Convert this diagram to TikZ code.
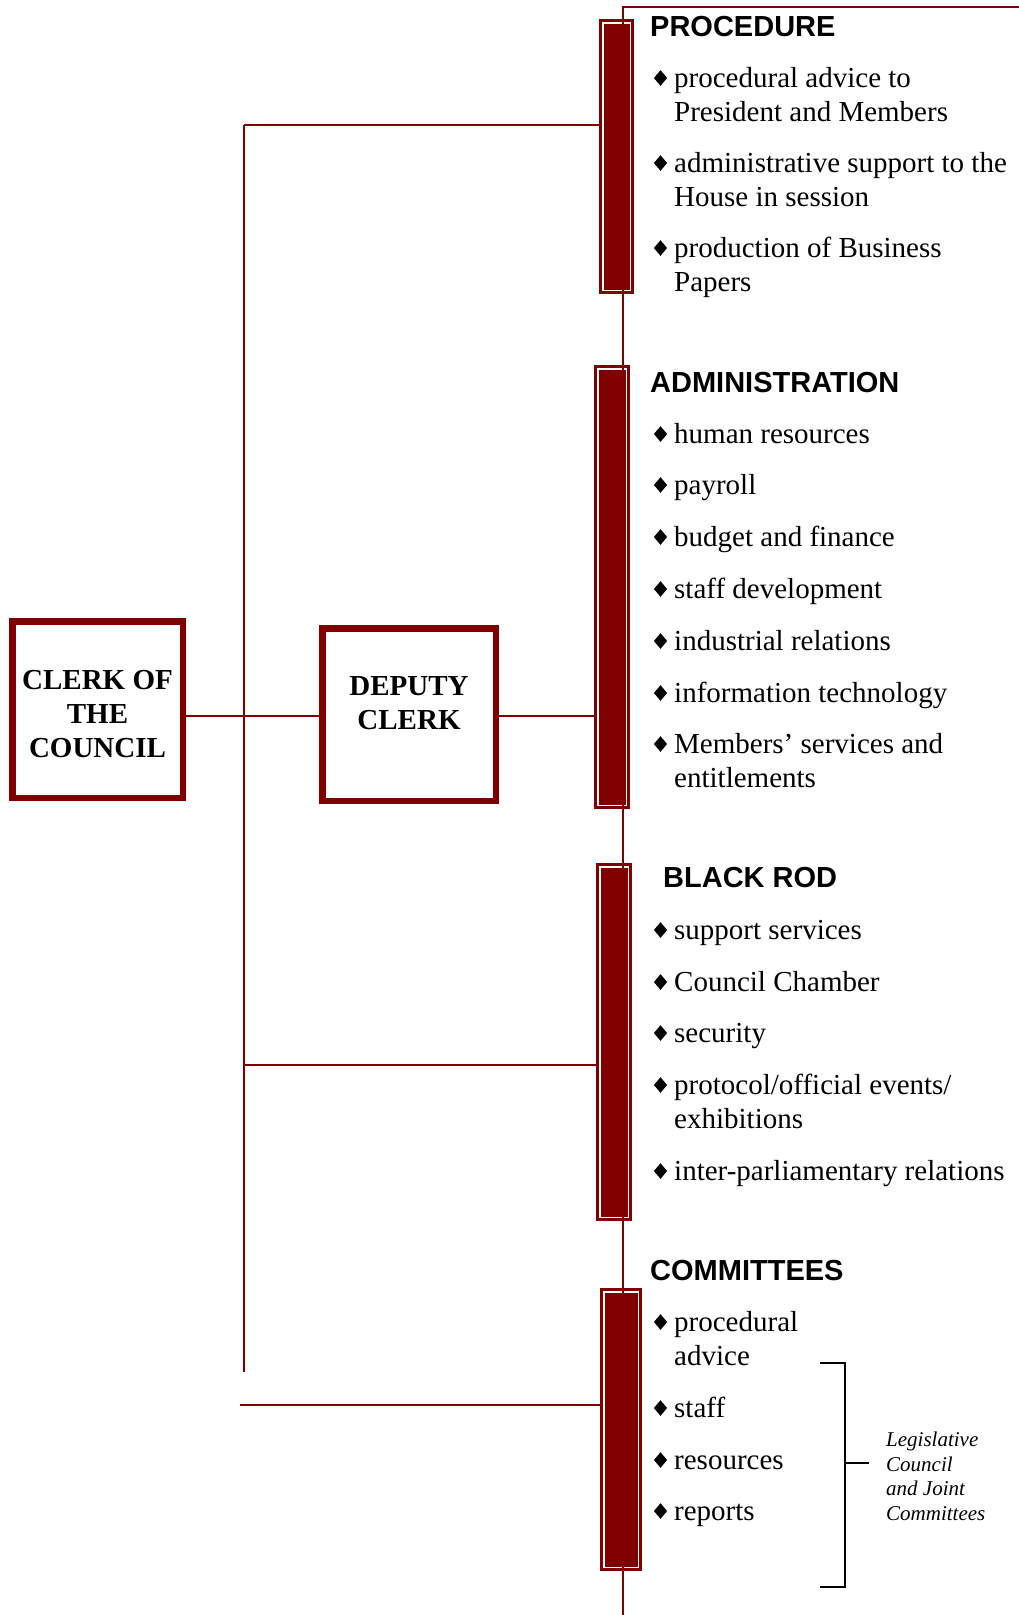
\documentclass[tikz,border=0pt]{standalone}
\usepackage{fontspec}
\setmainfont{Liberation Serif}
\newfontfamily\headfont{Liberation Sans}
\definecolor{maroonc}{RGB}{128,0,0}
\begin{document}
\begin{tikzpicture}[x=1pt,y=-1pt,
  conn/.style={draw=maroonc,line width=2.3pt},
  officebox/.style={draw=maroonc,line width=6.5pt,fill=white,inner sep=0pt},
  boxtext/.style={align=center,inner sep=0pt,font=\bfseries\fontsize{29}{34}\selectfont},
  barnode/.style={fill=maroonc,draw=none,inner sep=0pt,anchor=north west},
  barline/.style={draw=white,line width=1.4pt},
  head/.style={anchor=base west,inner sep=0pt,font=\headfont\bfseries\fontsize{29}{34}\selectfont},
  item/.style={anchor=base west,inner sep=0pt,font=\fontsize{29}{34}\selectfont},
  note/.style={anchor=base west,inner sep=0pt,font=\itshape\fontsize{21}{25}\selectfont},
  brk/.style={draw=black,line width=1.7pt},
  dmd/.pic={\fill (0,-7.8) -- (6.6,0) -- (0,7.8) -- (-6.6,0) -- cycle;}
]
\useasboundingbox (0,0) rectangle (1019,1615);

% office boxes
\node[officebox,minimum width=170.5pt,minimum height=176.5pt] (clerk) at (97.5,709.5) {};
\node[boxtext] (clerktext) at (97.5,714) {CLERK OF\\THE\\COUNCIL};
\node[officebox,minimum width=173.5pt,minimum height=172.5pt] (deputy) at (409,714.5) {};
\node[boxtext] (deputytext) at (409,703.5) {DEPUTY\\CLERK};

% bars
\node[barnode,minimum width=35pt,minimum height=275pt] (bar1) at (599,19) {};
\node[barnode,minimum width=36pt,minimum height=444pt] (bar2) at (594,365) {};
\node[barnode,minimum width=36pt,minimum height=358pt] (bar3) at (596,863) {};
\node[barnode,minimum width=42pt,minimum height=283pt] (bar4) at (600,1288) {};
\foreach \b in {bar1,bar2,bar3,bar4}{
  \draw[barline] ([shift={(4,4)}]\b.north west) rectangle ([shift={(-4,-4)}]\b.south east);
}

% coordinates
\coordinate (jtop) at (244,125);
\coordinate (jmid) at (244,716);
\coordinate (jrod) at (244,1065);
\coordinate (jend) at (244,1372);
\coordinate (jcom) at (240,1405);
\coordinate (topright) at (1019,7);
\coordinate (topcorner) at (623,7);
\coordinate (bottom) at (623,1615);

% connectors
\draw[conn] (jtop) -- (jend);
\draw[conn] (jtop) -- (jtop -| bar1.west);
\draw[conn] (clerk.east |- jmid) -- (deputy.west |- jmid);
\draw[conn] (deputy.east |- jmid) -- (bar2.west |- jmid);
\draw[conn] (jrod) -- (jrod -| bar3.west);
\draw[conn] (jcom) -- (jcom -| bar4.west);
\draw[conn] (topright) -- (topcorner) -- (bottom);

% PROCEDURE
\node[head] (hproc) at (650,36) {PROCEDURE};
\pic at (660.5,78) {dmd};
\node[item] (p1) at (674,87) {procedural advice to};
\node[item] (p1b) at (674,121) {President and Members};
\pic at (660.5,163) {dmd};
\node[item] (p2) at (674,172) {administrative support to the};
\node[item] (p2b) at (674,206) {House in session};
\pic at (660.5,248) {dmd};
\node[item] (p3) at (674,257) {production of Business};
\node[item] (p3b) at (674,291) {Papers};

% ADMINISTRATION
\node[head] (hadm) at (650,392) {ADMINISTRATION};
\pic at (660.5,434) {dmd};
\node[item] (a1) at (674,443) {human resources};
\pic at (660.5,485) {dmd};
\node[item] (a2) at (674,494) {payroll};
\pic at (660.5,537) {dmd};
\node[item] (a3) at (674,546) {budget and finance};
\pic at (660.5,589) {dmd};
\node[item] (a4) at (674,598) {staff development};
\pic at (660.5,641) {dmd};
\node[item] (a5) at (674,650) {industrial relations};
\pic at (660.5,693) {dmd};
\node[item] (a6) at (674,702) {information technology};
\pic at (660.5,744) {dmd};
\node[item] (a7) at (674,753) {Members’ services and};
\node[item] (a7b) at (674,787) {entitlements};

% BLACK ROD
\node[head] (hrod) at (663,887) {BLACK ROD};
\pic at (660.5,930) {dmd};
\node[item] (b1) at (674,939) {support services};
\pic at (660.5,982) {dmd};
\node[item] (b2) at (674,991) {Council Chamber};
\pic at (660.5,1033) {dmd};
\node[item] (b3) at (674,1042) {security};
\pic at (660.5,1085) {dmd};
\node[item] (b4) at (674,1094) {protocol/official events/};
\node[item] (b4b) at (674,1128) {exhibitions};
\pic at (660.5,1171) {dmd};
\node[item] (b5) at (674,1180) {inter-parliamentary relations};

% COMMITTEES
\node[head] (hcom) at (650,1280) {COMMITTEES};
\pic at (660.5,1322) {dmd};
\node[item] (c1) at (674,1331) {procedural};
\node[item] (c1b) at (674,1365) {advice};
\pic at (660.5,1408) {dmd};
\node[item] (c2) at (674,1417) {staff};
\pic at (660.5,1460) {dmd};
\node[item] (c3) at (674,1469) {resources};
\pic at (660.5,1511) {dmd};
\node[item] (c4) at (674,1520) {reports};

% bracket
\coordinate (bt1) at (820,1363);
\coordinate (bt2) at (845,1363);
\coordinate (bb2) at (845,1587);
\coordinate (bb1) at (820,1587);
\coordinate (bm1) at (845,1463);
\coordinate (bm2) at (869,1463);
\draw[brk] (bt1) -- (bt2) -- (bb2) -- (bb1);
\draw[brk] (bm1) -- (bm2);
\node[note] (n1) at (886,1446) {Legislative};
\node[note] (n2) at (886,1471) {Council};
\node[note] (n3) at (886,1495) {and Joint};
\node[note] (n4) at (886,1520) {Committees};
\end{tikzpicture}
\end{document}
